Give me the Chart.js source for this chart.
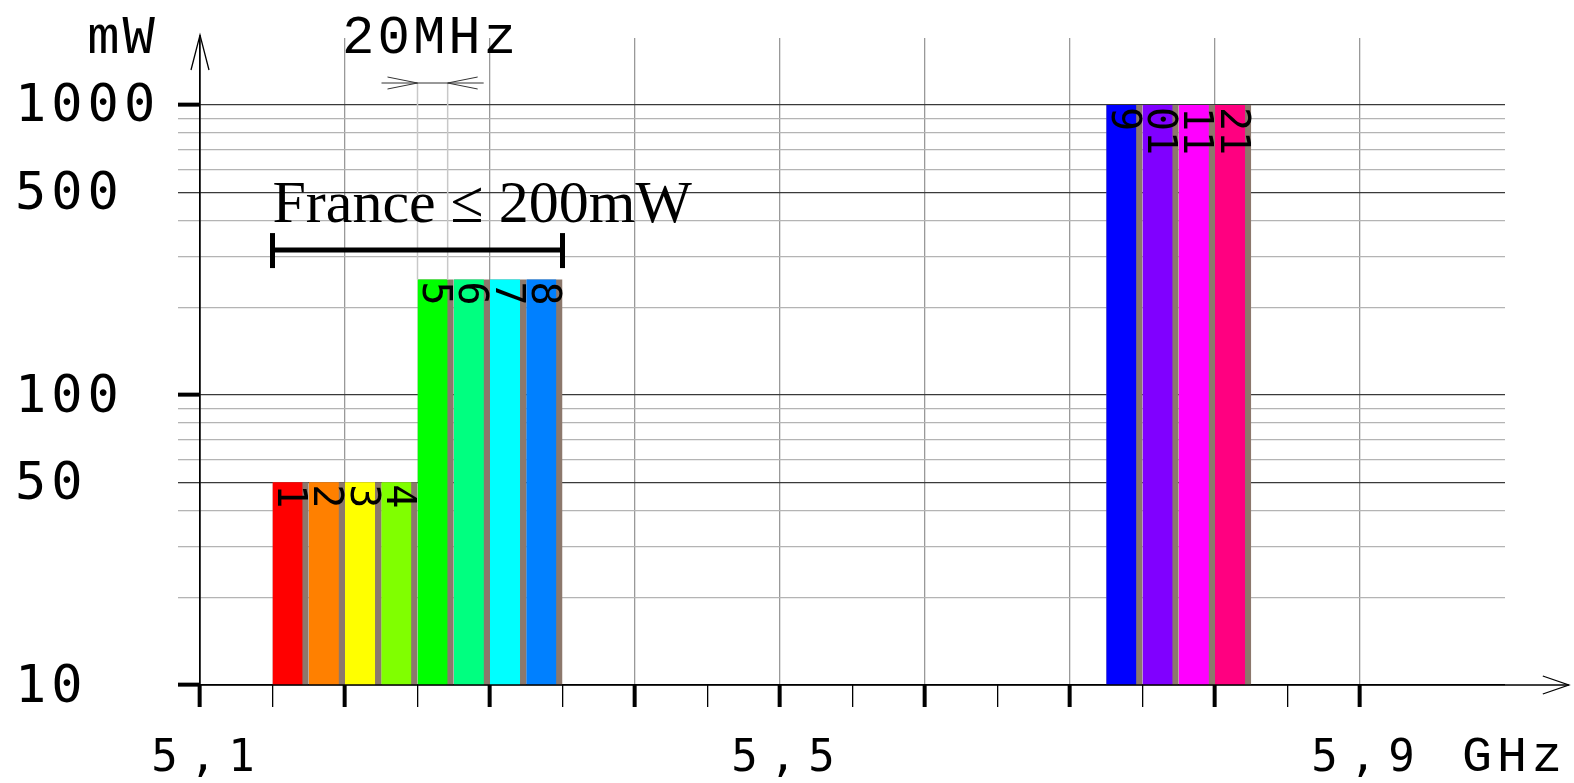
<!DOCTYPE html>
<html>
<head>
<meta charset="utf-8">
<script src="https://cdn.jsdelivr.net/npm/chart.js@4/dist/chart.umd.min.js"></script>
<style>
    html, body { margin: 0; padding: 0; background: #fff; }
</style>
</head>
<body>
<canvas id="chartPower" width="1574" height="783"></canvas>
<script>
(function () {
    'use strict';

    // 5 GHz Wi-Fi channels: start of each channel slot (GHz) and allowed power (mW)
    var CHANNELS = ['1', '2', '3', '4', '5', '6', '7', '8', '9', '10', '11', '12'];
    var CH_START = [5.15, 5.175, 5.2, 5.225, 5.25, 5.275, 5.3, 5.325, 5.725, 5.75, 5.775, 5.8];
    var CH_POWER = [50, 50, 50, 50, 250, 250, 250, 250, 1000, 1000, 1000, 1000];
    var CH_COLORS = ['#ff0000', '#ff8000', '#ffff00', '#80ff00', '#00ff00', '#00ff80',
                     '#00ffff', '#0080ff', '#0000ff', '#8000ff', '#ff00ff', '#ff0080'];

    var X_TICKS = [5.1, 5.15, 5.2, 5.25, 5.3, 5.35, 5.4, 5.45, 5.5, 5.55, 5.6, 5.65,
                   5.7, 5.75, 5.8, 5.85, 5.9];
    var X_LABELS = [5.1, 5.5, 5.9];
    var Y_GRID = [10, 20, 30, 40, 50, 60, 70, 80, 90, 100, 200, 300, 400, 500, 600, 700, 800, 900, 1000];
    var Y_LABELS = [10, 50, 100, 500, 1000];
    var Y_DARK = [50, 100, 500, 1000];
    var Y_MAJOR = [10, 100, 1000];

    var FRANCE_FROM = 5.15;
    var FRANCE_TO = 5.35;
    var FRANCE_TEXT = 'France \u2264 200mW';

    var SLOT = 0.025;     // channel slot width in GHz
    var BAND = 0.0208;    // coloured part of a slot (20 MHz)
    var SEP_COLOR = '#8c786c';

    function isTenth(v) {
        return Math.abs(v * 10 - Math.round(v * 10)) < 1e-6;
    }

    function buildDatasets() {
        var sets = [];
        CHANNELS.forEach(function (name, i) {
            sets.push({
                label: 'ch ' + name,
                data: [{ x: CH_START[i], y: CH_POWER[i] }, { x: CH_START[i] + BAND, y: CH_POWER[i] }],
                backgroundColor: CH_COLORS[i],
                borderWidth: 0,
                pointRadius: 0,
                fill: 'start',
                order: 1
            });
        });
        // grey separators behind each channel
        CHANNELS.forEach(function (name, i) {
            sets.push({
                label: 'sep ' + name,
                data: [{ x: CH_START[i], y: CH_POWER[i] }, { x: CH_START[i] + SLOT, y: CH_POWER[i] }],
                backgroundColor: SEP_COLOR,
                borderWidth: 0,
                pointRadius: 0,
                fill: 'start',
                order: 2
            });
        });
        return sets;
    }

    function line(ctx, pts) {
        ctx.beginPath();
        ctx.moveTo(pts[0][0], pts[0][1]);
        for (var i = 1; i < pts.length; i++) ctx.lineTo(pts[i][0], pts[i][1]);
        ctx.stroke();
    }

    var decorations = {
        id: 'decorations',
        afterDraw: function (chart) {
            var ctx = chart.ctx;
            var a = chart.chartArea;
            var x = chart.scales.x;
            var y = chart.scales.y;
            var yb = y.getPixelForValue(10);
            var xl = x.getPixelForValue(5.1);
            var xEnd = x.getPixelForValue(6.044);

            ctx.save();
            ctx.strokeStyle = '#000';
            ctx.fillStyle = '#000';

            // axes with open arrow heads
            ctx.lineWidth = 1.3;
            line(ctx, [[xl, yb], [xEnd, yb]]);
            line(ctx, [[xEnd - 26, yb - 9], [xEnd, yb], [xEnd - 26, yb + 9]]);
            line(ctx, [[xl, yb], [xl, a.top - 3]]);
            line(ctx, [[xl - 9, a.top + 32], [xl, a.top - 3], [xl + 9, a.top + 32]]);

            // channel numbers, turned a quarter
            ctx.font = '40px "DejaVu Sans Mono"';
            ctx.textAlign = 'left';
            ctx.textBaseline = 'middle';
            CHANNELS.forEach(function (name, i) {
                var cx = x.getPixelForValue(CH_START[i] + BAND / 2);
                var top = y.getPixelForValue(CH_POWER[i]);
                ctx.save();
                ctx.translate(cx + 1, top + 2);
                ctx.rotate(Math.PI / 2);
                ctx.fillText(name.split('').reverse().join(''), 0, 0);
                ctx.restore();
            });

            // 20 MHz dimension
            var e1 = x.getPixelForValue(CH_START[4]);
            var e2 = x.getPixelForValue(CH_START[4] + BAND);
            var dy = 83;
            ctx.strokeStyle = '#c8c8c8';
            ctx.lineWidth = 1.5;
            line(ctx, [[e1, dy], [e1, y.getPixelForValue(CH_POWER[4])]]);
            line(ctx, [[e2, dy], [e2, y.getPixelForValue(CH_POWER[4])]]);
            ctx.strokeStyle = '#333';
            ctx.lineWidth = 1;
            line(ctx, [[e1 - 36, dy], [e2 + 36, dy]]);
            line(ctx, [[e1 - 30, dy - 6], [e1, dy], [e1 - 30, dy + 6]]);
            line(ctx, [[e2 + 30, dy - 6], [e2, dy], [e2 + 30, dy + 6]]);

            ctx.font = '54px "Liberation Mono"';
            ctx.letterSpacing = '3px';
            ctx.textAlign = 'center';
            ctx.textBaseline = 'alphabetic';
            ctx.fillText('20MHz', (e1 + e2) / 2 - 2, 53);
            ctx.textAlign = 'right';
            ctx.fillText('mW', 158, 53);

            // France bracket
            var fa = x.getPixelForValue(FRANCE_FROM);
            var fb = x.getPixelForValue(FRANCE_TO);
            var fy = y.getPixelForValue(316);
            ctx.strokeStyle = '#000';
            ctx.lineWidth = 5;
            line(ctx, [[fa, fy], [fb, fy]]);
            line(ctx, [[fa, fy - 17], [fa, fy + 18]]);
            line(ctx, [[fb, fy - 17], [fb, fy + 18]]);
            ctx.letterSpacing = '0px';
            ctx.font = '60px "Liberation Serif"';
            ctx.textAlign = 'left';
            ctx.fillText(FRANCE_TEXT, fa, fy - 28);

            // y tick labels
            ctx.font = '52px "DejaVu Sans Mono"';
            ctx.letterSpacing = '5px';
            ctx.textAlign = 'left';
            ctx.textBaseline = 'middle';
            Y_LABELS.forEach(function (v) {
                ctx.fillText(String(v), 15, y.getPixelForValue(v) + 3);
            });

            // x tick labels
            ctx.font = '44px "DejaVu Sans Mono"';
            ctx.letterSpacing = '12px';
            ctx.textAlign = 'center';
            ctx.textBaseline = 'alphabetic';
            X_LABELS.forEach(function (v) {
                ctx.fillText(v.toFixed(1).replace('.', ','), x.getPixelForValue(v) + 9, 771);
            });
            ctx.font = '50px "Liberation Mono"';
            ctx.letterSpacing = '5px';
            ctx.textAlign = 'left';
            ctx.fillText('GHz', 1462, 771);
            ctx.restore();
        }
    };

    function init() {
        var canvas = document.getElementById('chartPower');
        new Chart(canvas, {
            type: 'line',
            data: { datasets: buildDatasets() },
            options: {
                responsive: false,
                animation: false,
                events: [],
                layout: { padding: { top: 38, right: 69, left: 0, bottom: 0 } },
                plugins: {
                    legend: { display: false },
                    tooltip: { enabled: false }
                },
                elements: { line: { tension: 0 } },
                scales: {
                    x: {
                        type: 'linear',
                        min: 5.1,
                        max: 6.0,
                        z: 0,
                        afterBuildTicks: function (s) {
                            s.ticks = X_TICKS.map(function (v) { return { value: v }; });
                        },
                        afterFit: function (s) { s.height = 98; },
                        border: { display: false },
                        ticks: { display: false },
                        grid: {
                            color: function (c) {
                                var v = c.tick && c.tick.value;
                                return (v > 5.15 && isTenth(v)) ? '#999' : 'rgba(0,0,0,0)';
                            },
                            lineWidth: 1.3,
                            drawTicks: true,
                            tickLength: 22,
                            tickColor: '#000',
                            tickWidth: function (c) {
                                return c.tick && isTenth(c.tick.value) ? 4 : 1.3;
                            }
                        }
                    },
                    y: {
                        type: 'logarithmic',
                        min: 10,
                        max: 1702,
                        z: 1,
                        afterBuildTicks: function (s) {
                            s.ticks = Y_GRID.map(function (v) { return { value: v }; });
                        },
                        afterFit: function (s) { s.width = 200; },
                        border: { display: true, color: '#000', width: 1.3 },
                        ticks: { display: false },
                        grid: {
                            color: function (c) {
                                var v = c.tick && c.tick.value;
                                if (v === 10) return '#000';
                                return Y_DARK.indexOf(v) >= 0 ? '#3a3a3a' : '#b4b4b4';
                            },
                            lineWidth: 1.3,
                            drawTicks: true,
                            tickLength: 22,
                            tickColor: function (c) {
                                var v = c.tick && c.tick.value;
                                if (Y_MAJOR.indexOf(v) >= 0) return '#000';
                                return Y_DARK.indexOf(v) >= 0 ? '#3a3a3a' : '#b4b4b4';
                            },
                            tickWidth: function (c) {
                                return c.tick && Y_MAJOR.indexOf(c.tick.value) >= 0 ? 4 : 1.3;
                            }
                        }
                    }
                }
            },
            plugins: [decorations]
        });
    }

    if (document.readyState === 'loading') {
        document.addEventListener('DOMContentLoaded', init);
    } else {
        init();
    }
})();
</script>
</body>
</html>
